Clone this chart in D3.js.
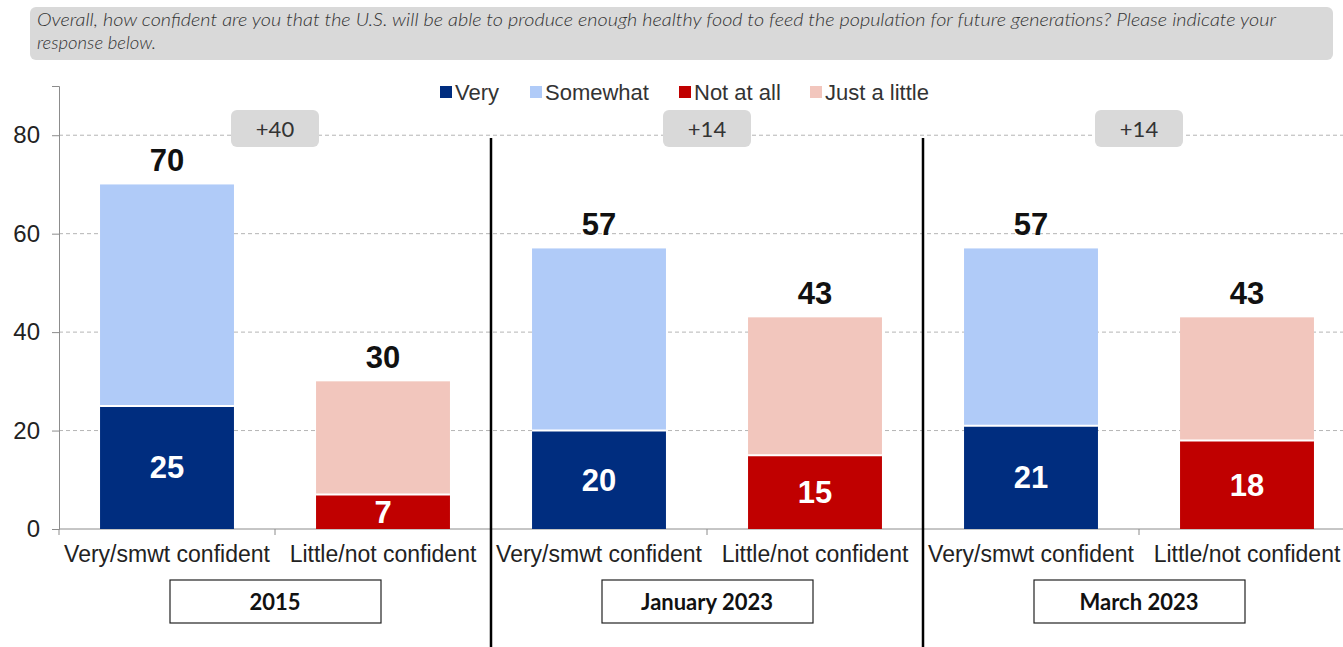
<!DOCTYPE html>
<html>
<head>
<meta charset="utf-8">
<script src="https://cdn.jsdelivr.net/npm/d3@7"></script>
<style>
  body { margin: 0; background: #fff; }
  svg { display: block; font-family: Arial, "Liberation Sans", sans-serif; }
</style>
</head>
<body>
<svg id="chart" width="1343" height="647"></svg>
<script>
// data
const waves = ['2015', 'January 2023', 'March 2023'];
const barLabels = ['Very/smwt confident', 'Little/not confident'];
const very = [25, 20, 21];
const somewhat = [45, 37, 36];
const notAtAll = [7, 15, 18];
const justALittle = [23, 28, 25];
const netLabels = ['+40', '+14', '+14'];
const yTicks = [0, 20, 40, 60, 80];
const legendItems = ['Very', 'Somewhat', 'Not at all', 'Just a little'];
const questionLines = [
    'Overall, how confident are you that the U.S. will be able to produce enough healthy food to feed the population for future generations? Please indicate your',
    'response below.'
];

const colors = {
    'Very': '#002d7f',
    'Somewhat': '#b0cbf8',
    'Not at all': '#c00000',
    'Just a little': '#f2c6bd'
};

const svg = d3.select('#chart');
const W = 1343, H = 647;
const left = 59, axisBottom = 529;

// question box
svg.append('rect')
    .attr('x', 30).attr('y', 7)
    .attr('width', 1303).attr('height', 53)
    .attr('rx', 6)
    .attr('fill', '#d9d9d9');

svg.selectAll('.question')
    .data(questionLines)
    .enter().append('text')
    .attr('class', 'question')
    .attr('x', 37)
    .attr('y', (d, i) => 26 + i * 23)
    .attr('font-family', 'Lato, sans-serif')
    .attr('font-style', 'italic')
    .attr('font-weight', 300)
    .attr('font-size', '18.5px')
    .attr('fill', '#333')
    .text(d => d)
    .each(function (d, i) {
        if (i === 0) d3.select(this).attr('textLength', 1239).attr('lengthAdjust', 'spacingAndGlyphs');
    });

// scales
const x0 = d3.scaleBand().domain(waves).range([left, left + 1296]).padding(0);
const x1 = d3.scaleBand().domain(barLabels).range([0, x0.bandwidth()])
    .paddingInner(0.38).paddingOuter(0.19);
const y = d3.scaleLinear().domain([0, 90]).range([axisBottom, 86]);

// gridlines
svg.append('g')
    .selectAll('line')
    .data(yTicks.filter(d => d > 0))
    .enter().append('line')
    .attr('x1', left).attr('x2', W)
    .attr('y1', d => y(d)).attr('y2', d => y(d))
    .attr('stroke', '#b5b5b5')
    .attr('stroke-dasharray', '4,3');

// y axis
const yAxis = svg.append('g')
    .attr('transform', `translate(${left},0)`)
    .call(d3.axisLeft(y).tickValues(yTicks).tickSize(7).tickPadding(12));
yAxis.select('.domain').attr('stroke', '#8c8c8c');
yAxis.selectAll('.tick line').attr('stroke', '#8c8c8c');
yAxis.selectAll('text')
    .attr('font-size', '24px')
    .attr('font-family', 'Arial, "Liberation Sans", sans-serif')
    .attr('fill', '#222');

// build bar rows
const bars = [];
waves.forEach((w, i) => {
    bars.push({ wave: w, label: barLabels[0], bottom: very[i], top: somewhat[i], bKey: 'Very', tKey: 'Somewhat' });
    bars.push({ wave: w, label: barLabels[1], bottom: notAtAll[i], top: justALittle[i], bKey: 'Not at all', tKey: 'Just a little' });
});
const bx = d => x0(d.wave) + x1(d.label);

// x axis line and ticks at boundaries
svg.append('line')
    .attr('x1', left).attr('x2', W)
    .attr('y1', axisBottom).attr('y2', axisBottom)
    .attr('stroke', '#8c8c8c');

const tickXs = [];
waves.forEach(w => {
    tickXs.push(x0(w));
    tickXs.push(x0(w) + x0.bandwidth() / 2);
});
svg.append('g')
    .selectAll('line')
    .data(tickXs)
    .enter().append('line')
    .attr('x1', d => d).attr('x2', d => d)
    .attr('y1', axisBottom).attr('y2', axisBottom + 6)
    .attr('stroke', '#8c8c8c');

// bars
const barG = svg.append('g');
barG.selectAll('.seg-top')
    .data(bars)
    .enter().append('rect')
    .attr('class', 'seg-top')
    .attr('x', bx)
    .attr('y', d => y(d.bottom + d.top))
    .attr('width', x1.bandwidth())
    .attr('height', d => y(d.bottom) - y(d.bottom + d.top))
    .attr('fill', d => colors[d.tKey]);

barG.selectAll('.seg-bottom')
    .data(bars)
    .enter().append('rect')
    .attr('class', 'seg-bottom')
    .attr('x', bx)
    .attr('y', d => y(d.bottom))
    .attr('width', x1.bandwidth())
    .attr('height', d => y(0) - y(d.bottom))
    .attr('fill', d => colors[d.bKey]);

// white divider between segments
barG.selectAll('.divider')
    .data(bars)
    .enter().append('line')
    .attr('x1', bx)
    .attr('x2', d => bx(d) + x1.bandwidth())
    .attr('y1', d => y(d.bottom)).attr('y2', d => y(d.bottom))
    .attr('stroke', '#fff')
    .attr('stroke-width', 2);

// inside labels
barG.selectAll('.in-label')
    .data(bars)
    .enter().append('text')
    .attr('x', d => bx(d) + x1.bandwidth() / 2)
    .attr('y', d => (y(0) + y(d.bottom)) / 2 + 11)
    .attr('text-anchor', 'middle')
    .attr('font-size', '31px')
    .attr('font-weight', 'bold')
    .attr('fill', '#fff')
    .text(d => d.bottom);

// total labels
barG.selectAll('.total-label')
    .data(bars)
    .enter().append('text')
    .attr('x', d => bx(d) + x1.bandwidth() / 2)
    .attr('y', d => y(d.bottom + d.top) - 13)
    .attr('text-anchor', 'middle')
    .attr('font-size', '31px')
    .attr('font-weight', 'bold')
    .attr('fill', '#111')
    .text(d => d.bottom + d.top);

// category labels
svg.append('g')
    .selectAll('text')
    .data(bars)
    .enter().append('text')
    .attr('x', d => bx(d) + x1.bandwidth() / 2)
    .attr('y', 562)
    .attr('text-anchor', 'middle')
    .attr('font-size', '23px')
    .attr('fill', '#222')
    .text(d => d.label);

// separators between waves
svg.append('g')
    .selectAll('line')
    .data(waves.slice(1))
    .enter().append('line')
    .attr('x1', d => x0(d)).attr('x2', d => x0(d))
    .attr('y1', 138).attr('y2', H)
    .attr('stroke', '#000')
    .attr('stroke-width', 2.5);

// wave label boxes
const waveG = svg.append('g')
    .selectAll('g')
    .data(waves)
    .enter().append('g')
    .attr('transform', d => `translate(${x0(d) + x0.bandwidth() / 2},0)`);

waveG.append('rect')
    .attr('x', -105).attr('y', 580)
    .attr('width', 211).attr('height', 43)
    .attr('fill', '#fff')
    .attr('stroke', '#222')
    .attr('stroke-width', 1.2);

waveG.append('text')
    .attr('y', 610)
    .attr('text-anchor', 'middle')
    .attr('font-family', 'Lato, sans-serif')
    .attr('font-weight', 'bold')
    .attr('font-size', '22px')
    .attr('fill', '#111')
    .text(d => d);

// net difference pills
const pillG = svg.append('g')
    .selectAll('g')
    .data(waves)
    .enter().append('g')
    .attr('transform', d => `translate(${x0(d) + x0.bandwidth() / 2},0)`);

pillG.append('rect')
    .attr('x', -44).attr('y', 110)
    .attr('width', 88).attr('height', 37)
    .attr('rx', 6)
    .attr('fill', '#d9d9d9');

pillG.append('text')
    .attr('y', 137)
    .attr('text-anchor', 'middle')
    .attr('font-family', 'Lato, sans-serif')
    .attr('font-size', '22px')
    .attr('fill', '#333')
    .text((d, i) => netLabels[i]);

// legend
const legendX = [440, 530, 679, 810];
const legend = svg.append('g')
    .selectAll('g')
    .data(legendItems)
    .enter().append('g')
    .attr('transform', (d, i) => `translate(${legendX[i]},86)`);

legend.append('rect')
    .attr('width', 12).attr('height', 12)
    .attr('fill', d => colors[d]);

legend.append('text')
    .attr('x', 15)
    .attr('y', 14)
    .attr('font-size', '22px')
    .attr('fill', '#333')
    .text(d => d);
</script>
</body>
</html>
